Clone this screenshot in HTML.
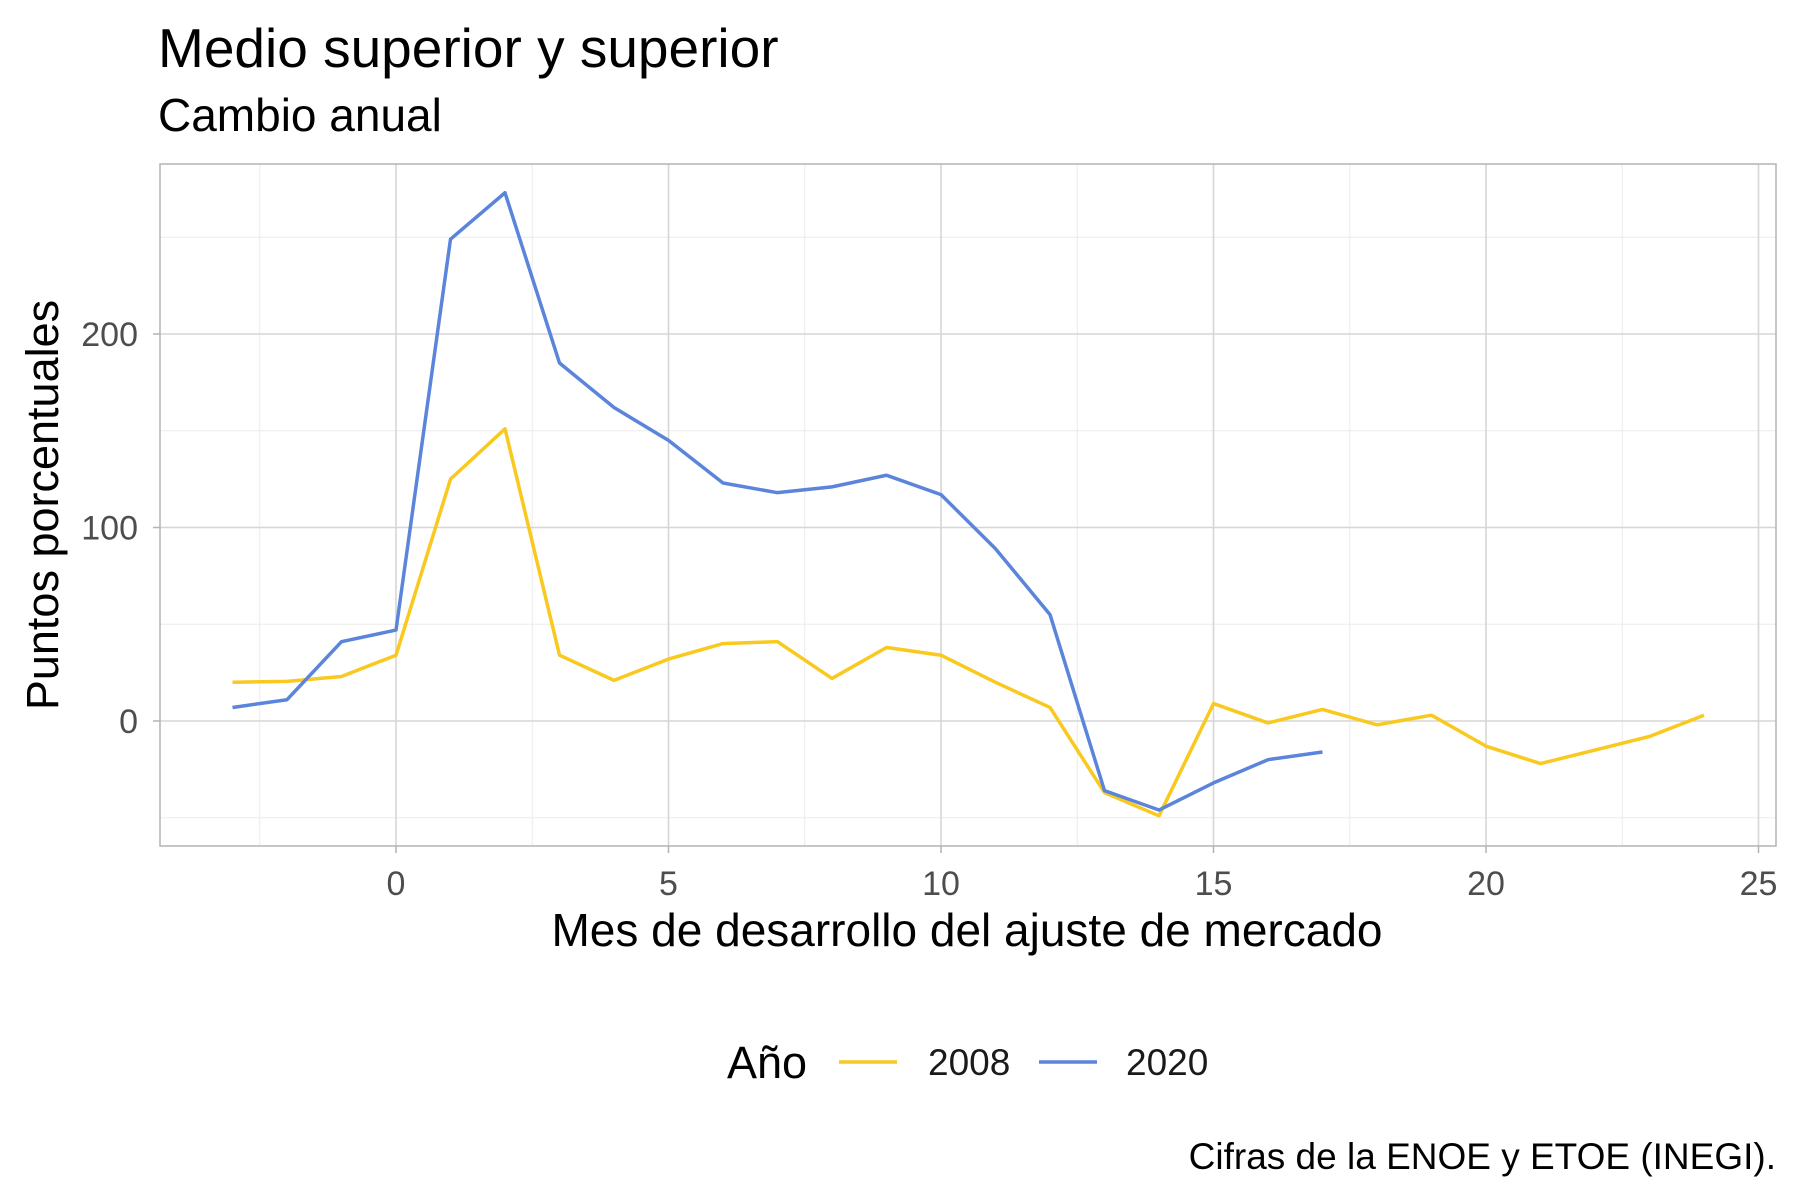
<!DOCTYPE html>
<html><head><meta charset="utf-8"><style>
html,body{margin:0;padding:0;background:#fff}
svg{display:block;font-family:"Liberation Sans",Arial,sans-serif}
</style></head><body>
<svg id="chart" width="1800" height="1200" viewBox="0 0 1800 1200">
<text x="158" y="67" font-size="55" fill="#000">Medio superior y superior</text>
<text x="158" y="131" font-size="46" fill="#000">Cambio anual</text>
<g id="grid"></g>
<g id="series"></g>
<rect x="160" y="164" width="1616" height="682" fill="none" stroke="#b3b3b3" stroke-width="1.5"/>
<g id="xticks"></g>
<g id="yticks"></g>
<text x="967" y="946" font-size="46" text-anchor="middle" fill="#000">Mes de desarrollo del ajuste de mercado</text>
<text transform="translate(58,505) rotate(-90)" font-size="45" text-anchor="middle" fill="#000">Puntos porcentuales</text>
<g>
<text x="727" y="1078" font-size="45" fill="#000">Año</text>
<g>
<line x1="839" y1="1062" x2="897" y2="1062" stroke="#F9C920" stroke-width="3.5"/>
<text x="928" y="1075" font-size="37" fill="#1a1a1a">2008</text></g>
<g>
<line x1="1039" y1="1062" x2="1097" y2="1062" stroke="#5B84DB" stroke-width="3.5"/>
<text x="1126" y="1075" font-size="37" fill="#1a1a1a">2020</text></g>
</g>
<text x="1776" y="1169" font-size="37" text-anchor="end" fill="#000">Cifras de la ENOE y ETOE (INEGI).</text>
</svg>
<script>
const months2008 = [-3,-2,-1,0,1,2,3,4,5,6,7,8,9,10,11,12,13,14,15,16,17,18,19,20,21,22,23,24];
const values2008 = [20,20.5,23,34,125,151,34,21,32,40,41,22,38,34,20,7,-37,-49,9,-1,6,-2,3,-13,-22,-15,-8,3];
const months2020 = [-3,-2,-1,0,1,2,3,4,5,6,7,8,9,10,11,12,13,14,15,16,17];
const values2020 = [7,11,41,47,249,273,185,162,145,123,118,121,127,117,89,55,-36,-46,-32,-20,-16];
const xTicks = [0,5,10,15,20,25];
const yTicks = [0,100,200];
const xMinor = [-2.5,2.5,7.5,12.5,17.5,22.5];
const yMinor = [-50,50,150,250];

const NS="http://www.w3.org/2000/svg";
function sx(v){return 396+v*54.5;}
function sy(v){return 721-v*1.935;}
const L=160,R=1776,T=164,B=846;
const grid=document.getElementById('grid');
function ln(parent,x1,y1,x2,y2,col,w){const l=document.createElementNS(NS,'line');l.setAttribute('x1',x1);l.setAttribute('y1',y1);l.setAttribute('x2',x2);l.setAttribute('y2',y2);l.setAttribute('stroke',col);l.setAttribute('stroke-width',w);parent.appendChild(l);return l;}
xMinor.forEach(v=>{const l=ln(grid,sx(v),T,sx(v),B,'#ebebeb',1);

});
yMinor.forEach(v=>{const l=ln(grid,L,sy(v),R,sy(v),'#ebebeb',1);

});
xTicks.forEach(v=>{const l=ln(grid,sx(v),T,sx(v),B,'#d6d6d6',1.6);

});
yTicks.forEach(v=>{const l=ln(grid,L,sy(v),R,sy(v),'#d6d6d6',1.6);

});
const xt=document.getElementById('xticks');
xTicks.forEach(v=>{ln(xt,sx(v),B,sx(v),B+7,'#b3b3b3',1.5);
const t=document.createElementNS(NS,'text');t.setAttribute('x',sx(v));t.setAttribute('y',895);t.setAttribute('font-size','34');t.setAttribute('text-anchor','middle');t.setAttribute('fill','#4d4d4d');t.textContent=v;


xt.appendChild(t);});
const yt=document.getElementById('yticks');
yTicks.forEach(v=>{ln(yt,L-7,sy(v),L,sy(v),'#b3b3b3',1.5);
const t=document.createElementNS(NS,'text');t.setAttribute('x',138);t.setAttribute('y',sy(v)+12);t.setAttribute('font-size','34');t.setAttribute('text-anchor','end');t.setAttribute('fill','#4d4d4d');t.textContent=v;


yt.appendChild(t);});
const sg=document.getElementById('series');
function line(xs,ys,col,name){const p=document.createElementNS(NS,'polyline');
p.setAttribute('points',xs.map((x,i)=>sx(x)+','+sy(ys[i])).join(' '));
p.setAttribute('fill','none');p.setAttribute('stroke',col);p.setAttribute('stroke-width','3.5');p.setAttribute('stroke-linejoin','round');


sg.appendChild(p);}
line(months2008,values2008,'#F9C920','line-2008');
line(months2020,values2020,'#5B84DB','line-2020');
</script>
</body></html>
